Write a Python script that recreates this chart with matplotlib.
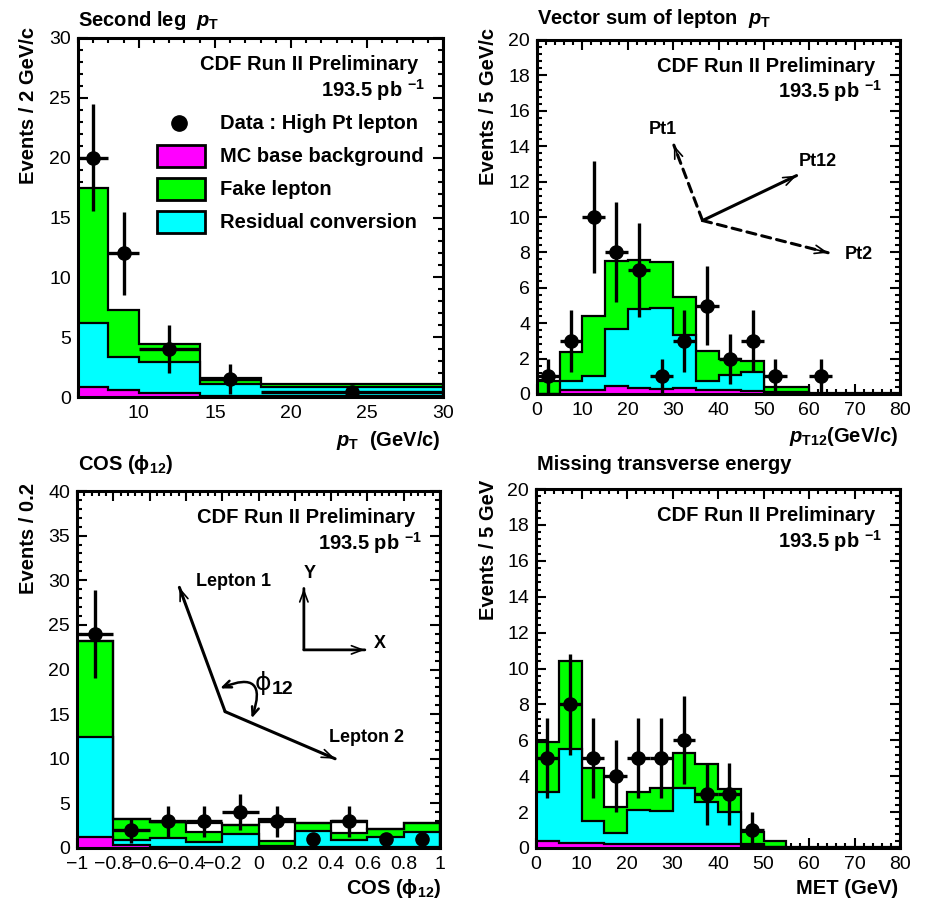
import numpy as np
import matplotlib
matplotlib.use('Agg')
from matplotlib import pyplot as plt
from matplotlib.patches import Rectangle
from matplotlib.ticker import MultipleLocator, FuncFormatter

plt.rcParams['font.family'] = ['Liberation Sans', 'DejaVu Sans']
plt.rcParams['mathtext.fontset'] = 'custom'
plt.rcParams['mathtext.rm'] = 'Liberation Sans:bold'
plt.rcParams['mathtext.it'] = 'Liberation Sans:italic:bold'
plt.rcParams['mathtext.bf'] = 'Liberation Sans:bold'

GREEN = '#00ff00'
CYAN = '#00ffff'
MAGENTA = '#ff00ff'

# --- second leg pT ---
pt_edges = [6, 8, 10, 14, 18, 30]
pt_total = [17.5, 7.25, 4.47, 1.55, 1.05]
pt_cyan = [6.2, 3.36, 2.95, 1.05, 0.8]
pt_magenta = [0.86, 0.58, 0.36, 0.12, 0.05]
pt_data_x = [7, 9, 12, 16, 24]
pt_data_y = [20, 12, 4, 1.5, 0.4]
pt_data_xerr = [1, 1, 2, 2, 6]
pt_data_yerr = [4.47, 3.46, 2.0, 1.22, 0.0]

# --- vector sum pT12 ---
pt12_edges = np.arange(0, 81, 5)
pt12_total = [0.76, 2.37, 4.4, 7.5, 7.55, 7.48, 5.48, 2.43, 1.96, 1.87, 0.4, 0.4, 0.05, 0.05, 0.03, 0.03]
pt12_cyan = [0.0, 0.76, 1.04, 3.67, 4.8, 4.85, 3.35, 0.76, 1.07, 1.26, 0.12, 0.1, 0.02, 0.02, 0.01, 0.01]
pt12_magenta = [0.0, 0.24, 0.24, 0.44, 0.33, 0.3, 0.33, 0.25, 0.2, 0.18, 0.05, 0.05, 0.01, 0.01, 0.0, 0.0]
pt12_data_x = [2.5, 7.5, 12.5, 17.5, 22.5, 27.5, 32.5, 37.5, 42.5, 47.5, 52.5, 62.5]
pt12_data_y = [1, 3, 10, 8, 7, 1, 3, 5, 2, 3, 1, 1]

# --- cos(phi12) ---
cos_edges = np.linspace(-1, 1, 11)
cos_outline = [23.2, 3.2, 2.9, 2.8, 2.6, 3.2, 2.8, 3.0, 2.1, 2.8]
cos_total = [23.2, 3.2, 2.9, 1.75, 2.6, 0.8, 2.8, 1.7, 2.1, 2.8]
cos_cyan = [12.4, 0.85, 1.1, 0.7, 1.6, 0.25, 1.9, 0.9, 1.2, 1.8]
cos_magenta = [1.27, 0.3, 0.1, 0.1, 0.1, 0.1, 0.1, 0.1, 0.1, 0.1]
cos_data_x = [-0.9, -0.7, -0.5, -0.3, -0.1, 0.1, 0.3, 0.5, 0.7, 0.9]
cos_data_y = [24, 2, 3, 3, 4, 3, 1, 3, 1, 1]
cos_data_xerr = [0.1, 0.1, 0.1, 0.1, 0.1, 0.1, 0, 0.1, 0, 0]
cos_data_yerr = [4.9, 1.41, 1.73, 1.73, 2.0, 1.73, 0, 1.73, 0, 0]

# --- missing ET ---
met_edges = np.arange(0, 81, 5)
met_total = [5.93, 10.4, 4.43, 2.28, 3.12, 3.36, 5.31, 4.67, 3.31, 0.88, 0.41, 0.05, 0.04, 0.03, 0.03, 0.03]
met_cyan = [3.12, 5.5, 1.53, 0.82, 2.09, 2.06, 3.36, 2.56, 2.0, 0.2, 0.05, 0.02, 0.02, 0.01, 0.01, 0.01]
met_magenta = [0.37, 0.26, 0.3, 0.25, 0.25, 0.22, 0.25, 0.25, 0.2, 0.12, 0.03, 0.01, 0.01, 0.0, 0.0, 0.0]
met_data_x = [2.5, 7.5, 12.5, 17.5, 22.5, 27.5, 32.5, 37.5, 42.5, 47.5]
met_data_y = [5, 8, 5, 4, 5, 5, 6, 3, 3, 1]

W, H = 930, 906


def fx(x):
    return x / W


def fy(y):
    return 1 - y / H


def draw_stack(ax, edges, total, cyan, magenta, outline=None):
    z = 2
    for vals, col in ((total, GREEN), (cyan, CYAN), (magenta, MAGENTA)):
        ax.stairs(vals, edges, fill=True, color=col, zorder=z)
        ax.stairs(vals, edges, color='black', lw=1.6, baseline=0, zorder=z + 0.5)
        z += 1
    if outline is not None:
        ax.stairs(outline, edges, color='black', lw=1.6, baseline=0, zorder=z)


def draw_data(ax, x, y, xerr, yerr):
    ax.errorbar(x, y, xerr=xerr, yerr=yerr, fmt='o', color='black', ms=9.5,
                elinewidth=2.4, capsize=0, zorder=10)


def style(ax, xlim, ylim, xmaj, xmin, ymaj, ymin):
    ax.set_xlim(*xlim)
    ax.set_ylim(*ylim)
    ax.xaxis.set_major_locator(MultipleLocator(xmaj))
    ax.xaxis.set_minor_locator(MultipleLocator(xmin))
    ax.yaxis.set_major_locator(MultipleLocator(ymaj))
    ax.yaxis.set_minor_locator(MultipleLocator(ymin))
    fmt = FuncFormatter(lambda v, p: f'{round(v, 3) + 0:g}'.replace('-', '\u2212'))
    ax.xaxis.set_major_formatter(fmt)
    ax.yaxis.set_major_formatter(fmt)
    ax.tick_params(which='both', direction='in', top=True, right=True,
                   labelsize=14, width=1.5)
    ax.tick_params(which='major', length=7)
    ax.tick_params(which='minor', length=3.5)
    ax.tick_params(axis='x', pad=6)
    ax.tick_params(axis='y', pad=5)
    for s in ax.spines.values():
        s.set_linewidth(2.2)
        s.set_zorder(20)


def cdf_label(ax):
    ax.text(0.932, 0.911, 'CDF Run II Preliminary', transform=ax.transAxes,
            ha='right', va='baseline', fontsize=14.5, fontweight='bold', zorder=15)
    ax.text(0.951, 0.836, '193.5 pb $^{-1}$', transform=ax.transAxes,
            ha='right', va='baseline', fontsize=14.5, fontweight='bold', zorder=15)


def arrow(ax, start, end, ls='-', lw=2.2, head_lw=1.2):
    start = np.array(start)
    end = np.array(end)
    ax.annotate('', xy=end, xytext=start, xycoords='axes fraction',
                arrowprops=dict(arrowstyle='-', lw=lw, linestyle=ls,
                                shrinkA=0, shrinkB=0), zorder=12)
    mid = start + 0.85 * (end - start)
    ax.annotate('', xy=end, xytext=mid, xycoords='axes fraction',
                arrowprops=dict(arrowstyle='->,head_length=0.8,head_width=0.3',
                                lw=head_lw, shrinkA=0, shrinkB=0), zorder=12)


fig = plt.figure(figsize=(W / 100, H / 100), dpi=100)

ax1 = fig.add_axes([fx(78), fy(397), fx(365), 359 / H])
ax2 = fig.add_axes([fx(537), fy(394), fx(363), 354 / H])
ax3 = fig.add_axes([fx(77), fy(848), fx(363), 357 / H])
ax4 = fig.add_axes([fx(536), fy(848), fx(364), 359 / H])

# panel 1
draw_stack(ax1, pt_edges, pt_total, pt_cyan, pt_magenta)
draw_data(ax1, pt_data_x, pt_data_y, pt_data_xerr, pt_data_yerr)
style(ax1, (6, 30), (0, 30), 5, 1, 5, 1)
cdf_label(ax1)
legend_rows = [('Data : High Pt lepton', None), ('MC base background', MAGENTA),
               ('Fake lepton', GREEN), ('Residual conversion', CYAN)]
row_y = [0.763, 0.671, 0.579, 0.487]
for (label, col), ry in zip(legend_rows, row_y):
    if col is None:
        ax1.plot([0.277], [ry], 'o', color='black', ms=11, transform=ax1.transAxes,
                 zorder=15, clip_on=False)
    else:
        ax1.add_patch(Rectangle((0.216, ry - 0.031), 0.1315, 0.062, transform=ax1.transAxes,
                                facecolor=col, edgecolor='black', lw=2, zorder=15))
    ax1.text(0.389, ry, label, transform=ax1.transAxes, ha='left', va='center',
             fontsize=14.5, fontweight='bold', zorder=15)

# panel 2
draw_stack(ax2, pt12_edges, pt12_total, pt12_cyan, pt12_magenta)
draw_data(ax2, pt12_data_x, pt12_data_y, 2.5, np.sqrt(pt12_data_y))
style(ax2, (0, 80), (0, 20), 10, 2, 2, 0.4)
cdf_label(ax2)
origin = (0.456, 0.49)
arrow(ax2, origin, (0.377, 0.703), ls=(0, (3, 2)))
arrow(ax2, origin, (0.715, 0.617))
arrow(ax2, origin, (0.802, 0.399), ls=(0, (3, 2)))
for txt, tx, ty in (('Pt1', 0.347, 0.746), ('Pt12', 0.773, 0.658), ('Pt2', 0.887, 0.393)):
    ax2.text(tx, ty, txt, transform=ax2.transAxes, ha='center', va='center',
             fontsize=13, fontweight='bold')

# panel 3
draw_stack(ax3, cos_edges, cos_total, cos_cyan, cos_magenta, outline=cos_outline)
draw_data(ax3, cos_data_x, cos_data_y, cos_data_xerr, cos_data_yerr)
style(ax3, (-1, 1), (0, 40), 0.2, 0.04, 5, 1)
cdf_label(ax3)
o3 = (0.408, 0.382)
arrow(ax3, o3, (0.282, 0.730))
arrow(ax3, o3, (0.711, 0.250))
arrow(ax3, (0.625, 0.555), (0.625, 0.727), lw=2)
arrow(ax3, (0.625, 0.555), (0.793, 0.555), lw=2)
ax3.annotate('', xy=(0.481, 0.363), xytext=(0.394, 0.447), xycoords='axes fraction',
             arrowprops=dict(arrowstyle='<->,head_length=0.6,head_width=0.25', lw=1.8,
                             connectionstyle='arc3,rad=-1.1', shrinkA=0, shrinkB=0))
for txt, tx, ty in (('Lepton 1', 0.431, 0.746), ('Lepton 2', 0.798, 0.309),
                    ('Y', 0.642, 0.768), ('X', 0.835, 0.573)):
    ax3.text(tx, ty, txt, transform=ax3.transAxes, ha='center', va='center',
             fontsize=13, fontweight='bold')
ax3.text(0.513, 0.461, '\u03d5', transform=ax3.transAxes, ha='center', va='center',
         fontsize=18, family=['DejaVu Sans'])
ax3.text(0.567, 0.443, '12', transform=ax3.transAxes, ha='center', va='center',
         fontsize=14, fontweight='bold')

# panel 4
draw_stack(ax4, met_edges, met_total, met_cyan, met_magenta)
draw_data(ax4, met_data_x, met_data_y, 2.5, np.sqrt(met_data_y))
style(ax4, (0, 80), (0, 20), 10, 2, 2, 0.4)
cdf_label(ax4)

# titles
bold = dict(fontsize=14.5, fontweight='bold')
fig.text(fx(78), fy(20), r'Second leg  $p_{\mathrm{T}}$', ha='left', va='center', **bold)
fig.text(fx(537), fy(18), r'Vector sum of lepton  $p_{\mathrm{T}}$', ha='left', va='center', **bold)
fig.text(fx(78), fy(465), r'COS ($\mathregular{\phi}_{12}$)', ha='left', va='center', **bold)
fig.text(fx(537), fy(465), 'Missing transverse energy', ha='left', va='center', **bold)

# x labels
fig.text(fx(441), fy(440), r'$p_{\mathrm{T}}$  (GeV/c)', ha='right', va='center', **bold)
fig.text(fx(898), fy(437), r'$p_{\mathrm{T12}}$(GeV/c)', ha='right', va='center', **bold)
fig.text(fx(441), fy(888), r'COS ($\mathregular{\phi}_{12}$)', ha='right', va='center', **bold)
fig.text(fx(898), fy(888), 'MET (GeV)', ha='right', va='center', **bold)

# y labels
fig.text(fx(29), fy(27), 'Events / 2 GeV/c', rotation=90, ha='center', va='top', **bold)
fig.text(fx(488), fy(28), 'Events / 5 GeV/c', rotation=90, ha='center', va='top', **bold)
fig.text(fx(29), fy(483), 'Events / 0.2', rotation=90, ha='center', va='top', **bold)
fig.text(fx(488), fy(480), 'Events / 5 GeV', rotation=90, ha='center', va='top', **bold)

fig.savefig('out.png', dpi=100)
